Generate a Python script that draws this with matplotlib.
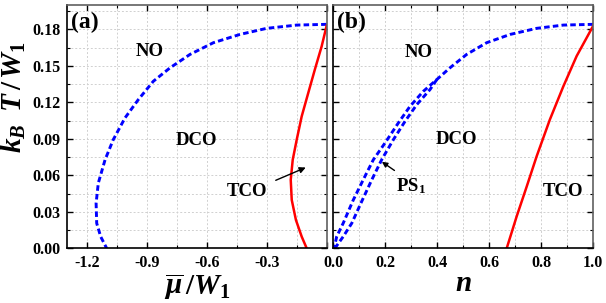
import matplotlib
matplotlib.use("Agg")
import matplotlib.pyplot as plt
from matplotlib.ticker import MultipleLocator

plt.rcParams['font.family'] = ['Liberation Serif', 'DejaVu Serif']
plt.rcParams['font.weight'] = 'bold'
plt.rcParams['mathtext.fontset'] = 'custom'
plt.rcParams['mathtext.it'] = 'Liberation Serif:italic:bold'
plt.rcParams['mathtext.rm'] = 'Liberation Serif:bold'
plt.rcParams['mathtext.bf'] = 'Liberation Serif:bold'

# ---- Panel (a): chemical potential vs temperature ----
a_no_mu = [0.0, -0.150, -0.301, -0.435, -0.568, -0.685, -0.785, -0.869, -0.944,
           -1.011, -1.07, -1.111, -1.145, -1.156, -1.153, -1.133, -1.103]
a_no_T = [0.1841, 0.1835, 0.1808, 0.1758, 0.169, 0.1594, 0.1484, 0.1373, 0.1223,
          0.1072, 0.0893, 0.0728, 0.0536, 0.0371, 0.0206, 0.0096, 0.0]
a_tco_mu = [0.0, -0.025, -0.059, -0.092, -0.125, -0.150, -0.170, -0.180, -0.175,
            -0.154, -0.125, -0.100]
a_tco_T = [0.183, 0.166, 0.147, 0.1278, 0.1085, 0.0893, 0.0728, 0.0563, 0.0398,
           0.0233, 0.0096, 0.0]

# ---- Panel (b): filling vs temperature ----
b_left_n = [1.0, 0.885, 0.782, 0.680, 0.590, 0.513, 0.449, 0.398, 0.346, 0.295,
            0.25, 0.199, 0.154, 0.115, 0.077, 0.038, 0.013, 0.003]
b_left_T = [0.1841, 0.1835, 0.1808, 0.1758, 0.169, 0.1594, 0.1484, 0.1387, 0.129,
            0.1167, 0.103, 0.0866, 0.0728, 0.0563, 0.0398, 0.0206, 0.0096, 0.0]
b_right_n = [0.398, 0.372, 0.321, 0.276, 0.231, 0.186, 0.148, 0.109, 0.071, 0.038, 0.006]
b_right_T = [0.1387, 0.1305, 0.1181, 0.1044, 0.0893, 0.0728, 0.0563, 0.0384, 0.0206,
             0.0096, 0.0]
b_tco_n = [0.667, 0.705, 0.744, 0.782, 0.833, 0.885, 0.936, 1.0]
b_tco_T = [0.0, 0.026, 0.0508, 0.0755, 0.1058, 0.1332, 0.158, 0.183]

yticks = [0.00, 0.03, 0.06, 0.09, 0.12, 0.15, 0.18]
ytick_labels = ['0.00', '0.03', '0.06', '0.09', '0.12', '0.15', '0.18']
a_xticks = [-1.2, -0.9, -0.6, -0.3, 0.0]
a_xtick_labels = ['-1.2', '-0.9', '-0.6', '-0.3', '']
b_xticks = [0.0, 0.2, 0.4, 0.6, 0.8, 1.0]
b_xtick_labels = ['0.0', '0.2', '0.4', '0.6', '0.8', '1.0']

fig = plt.figure(figsize=(6.06, 3.03), dpi=100)
axa = fig.add_axes([0.1112, 0.1805, 0.4278, 0.803])
axb = fig.add_axes([0.550, 0.1805, 0.429, 0.803])

blue = '#0000ff'
red = '#ff0000'
dash = (1.9, 1.1)

def style(ax):
    ax.set_ylim(0, 0.2)
    ax.set_yticks(yticks)
    ax.yaxis.set_minor_locator(MultipleLocator(0.015))
    ax.grid(True, which='both', color='#d0d0d0', linestyle=(0, (2, 2)), linewidth=0.7)
    ax.set_axisbelow(True)
    ax.tick_params(which='both', direction='in', top=True, right=True, labelsize=11.5)
    ax.tick_params(which='major', length=4, width=1.0, pad=5)
    ax.tick_params(which='minor', length=2, width=0.8)
    for s in ['left', 'bottom']:
        ax.spines[s].set_color('black')
        ax.spines[s].set_linewidth(1.2)
    for s in ['top', 'right']:
        ax.spines[s].set_color('#606060')
        ax.spines[s].set_linewidth(1.2)
    for lab in ax.get_xticklabels() + ax.get_yticklabels():
        lab.set_fontweight('bold')

lab_kw = dict(fontsize=13.5, fontweight='bold', ha='center', va='center')

# Panel (a)
axa.plot(a_no_mu, a_no_T, color=blue, lw=2.1, linestyle=(0, dash))
axa.plot(a_tco_mu, a_tco_T, color=red, lw=1.8)
axa.set_xlim(-1.3, 0.0)
axa.set_xticks(a_xticks)
axa.set_xticklabels(a_xtick_labels)
axa.xaxis.set_minor_locator(MultipleLocator(0.15))
axa.set_yticklabels(ytick_labels)
style(axa)
axa.set_xlabel(r'$\overline{\mu}\,/W_1$', fontsize=21, labelpad=0)
axa.set_ylabel(r'$k_B\;\;T\,/\,W_1$', fontsize=21, labelpad=1)
axa.yaxis.set_label_coords(-0.152, 0.62)
axa.text(-1.215, 0.1855, '(a)', fontsize=17, fontweight='bold', ha='center', va='center')
axa.text(-0.886, 0.162, 'NO', **lab_kw)
axa.text(-0.652, 0.089, 'DCO', **lab_kw)
axa.text(-0.40, 0.0467, 'TCO', **lab_kw)
axa.annotate('', xy=(-0.092, 0.0673), xytext=(-0.268, 0.055),
             arrowprops=dict(arrowstyle='-|>', color='black', lw=1.0, mutation_scale=9))

# Panel (b)
axb.plot(b_left_n, b_left_T, color=blue, lw=2.1, linestyle=(0, dash))
axb.plot(b_right_n, b_right_T, color=blue, lw=2.1, linestyle=(0, dash))
axb.plot(b_tco_n, b_tco_T, color=red, lw=1.8)
axb.set_xlim(0, 1.0)
axb.set_xticks(b_xticks)
axb.set_xticklabels(b_xtick_labels)
axb.xaxis.set_minor_locator(MultipleLocator(0.1))
style(axb)
axb.set_yticklabels([])
axb.set_xlabel(r'$n$', fontsize=21, labelpad=0)
axb.text(0.071, 0.1855, '(b)', fontsize=17, fontweight='bold', ha='center', va='center')
axb.text(0.327, 0.161, 'NO', **lab_kw)
axb.text(0.475, 0.0893, 'DCO', **lab_kw)
axb.text(0.882, 0.0467, 'TCO', **lab_kw)
axb.text(0.30, 0.0508, r'PS$_\mathbf{1}$', **lab_kw)
axb.annotate('', xy=(0.178, 0.0724), xytext=(0.244, 0.0627),
             arrowprops=dict(arrowstyle='-|>', color='black', lw=1.0, mutation_scale=8))

fig.savefig('out.png', dpi=100)
